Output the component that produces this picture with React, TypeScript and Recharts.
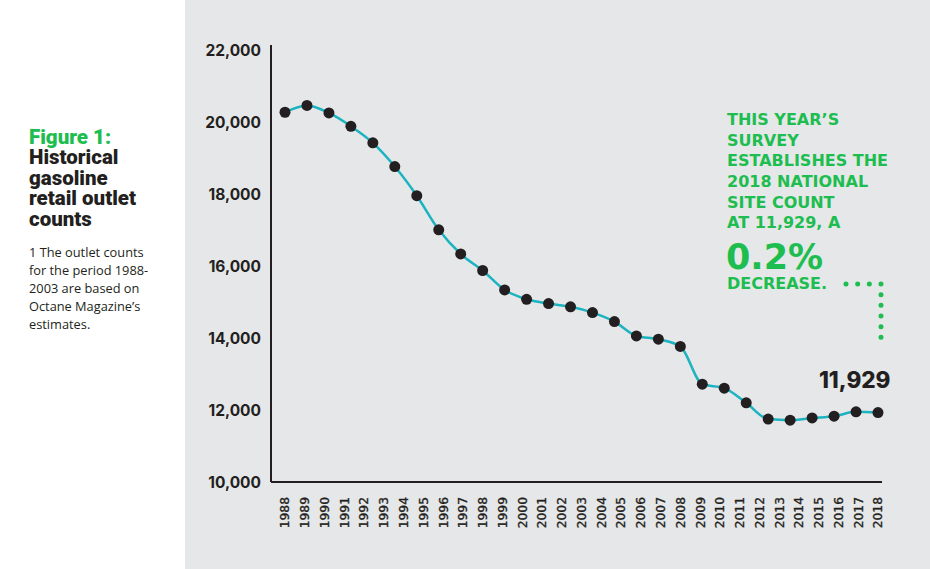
import React from 'react'
import { LabelList, Line, LineChart, XAxis, YAxis } from 'recharts'

// years shown on the axis
const years = [
  1988, 1989, 1990, 1991, 1992, 1993, 1994, 1995, 1996, 1997, 1998, 1999, 2000, 2001, 2002, 2003,
  2004, 2005, 2006, 2007, 2008, 2009, 2010, 2011, 2012, 2013, 2014, 2015, 2016, 2017, 2018,
]

// outlet counts as plotted (the original draws 28 points across the year axis)
const outletCounts = [
  20280, 20470, 20260, 19890, 19430, 18770, 17960, 17010, 16340, 15880, 15340, 15080, 14960, 14870,
  14710, 14460, 14060, 13970, 13770, 12720, 12610, 12200, 11750, 11720, 11780, 11830, 11950, 11929,
]

const yTicks = [10000, 12000, 14000, 16000, 18000, 20000, 22000]

const titleLines = ['Historical', 'gasoline', 'retail outlet', 'counts']
const noteLines = [
  '1 The outlet counts',
  'for the period 1988-',
  '2003 are based on',
  'Octane Magazine’s',
  'estimates.',
]
const calloutLines = ['THIS YEAR’S', 'SURVEY', 'ESTABLISHES THE', '2018 NATIONAL', 'SITE COUNT', 'AT 11,929, A']

const palette = {
  ink: '#231f20',
  green: '#1dbd50',
  teal: '#1cb3c1',
  panel: '#e6e7e8',
}

const yearRows = years.map((year) => ({ year }))
const pointRows = outletCounts.map((count, i) => ({ i, count }))

function YearTick({ x, y, payload }: any) {
  return (
    <text
      x={x}
      y={y}
      transform={`rotate(-90 ${x} ${y})`}
      textAnchor="end"
      dy="0.36em"
      fontSize={12.3}
      fontFamily="DejaVu Sans"
      fill={palette.ink}
      stroke={palette.ink}
      strokeWidth={0.35}
    >
      {payload.value}
    </text>
  )
}

function LastValueLabel(props: any) {
  const { x, y, value, index } = props
  if (index !== outletCounts.length - 1) return null
  return (
    <text
      x={x + 12.5}
      y={y - 24.5}
      textAnchor="end"
      fontSize={22.5}
      fontWeight={800}
      fontFamily="Inter"
      fill={palette.ink}
    >
      {Number(value).toLocaleString('en-US')}
    </text>
  )
}

export default function App() {
  return (
    <div
      style={{
        position: 'absolute',
        left: 0,
        top: 0,
        width: 930,
        height: 569,
        background: '#ffffff',
        overflow: 'hidden',
      }}
    >
      <div style={{ position: 'absolute', left: 185, top: 0, width: 745, height: 569, background: palette.panel }}>
        <LineChart width={745} height={569} data={yearRows} margin={{ top: 45, right: 48, bottom: 0, left: 0 }}>
          <XAxis
            xAxisId="pts"
            dataKey="i"
            type="number"
            domain={[0, outletCounts.length - 1]}
            padding={{ left: 14, right: 4 }}
            height={0}
            hide
          />
          <XAxis
            xAxisId="years"
            dataKey="year"
            type="number"
            domain={['dataMin', 'dataMax']}
            ticks={years}
            interval={0}
            padding={{ left: 14, right: 4 }}
            height={87}
            axisLine={{ stroke: palette.ink, strokeWidth: 2 }}
            tickLine={false}
            tickMargin={9}
            tick={<YearTick />}
          />
          <YAxis
            domain={[10000, 22150]}
            ticks={yTicks}
            interval={0}
            allowDataOverflow
            width={86}
            axisLine={{ stroke: palette.ink, strokeWidth: 2 }}
            tickLine={false}
            tickMargin={4}
            tick={{ fontSize: 15.5, fontWeight: 700, fontFamily: 'Inter', fill: palette.ink }}
            tickFormatter={(v: number) => v.toLocaleString('en-US')}
          />
          <Line
            data={pointRows}
            xAxisId="pts"
            type="monotone"
            dataKey="count"
            stroke={palette.teal}
            strokeWidth={2.5}
            dot={{ r: 5.5, fill: palette.ink, stroke: 'none', strokeWidth: 0 }}
            activeDot={false}
            isAnimationActive={false}
          >
            <LabelList dataKey="count" content={<LastValueLabel />} />
          </Line>
        </LineChart>
      </div>

      <svg
        width={930}
        height={569}
        style={{ position: 'absolute', left: 0, top: 0, pointerEvents: 'none' }}
      >
        {/* left caption */}
        <text x={29} y={143.5} fontFamily="Roboto" fontWeight={900} fontSize={20.5} fill={palette.green}>
          Figure 1:
        </text>
        {titleLines.map((line, i) => (
          <text
            key={line}
            x={29}
            y={164 + i * 20.7}
            fontFamily="Roboto"
            fontWeight={900}
            fontSize={20.5}
            fill={palette.ink}
          >
            {line}
          </text>
        ))}
        {noteLines.map((line, i) => (
          <text
            key={line}
            x={29}
            y={256.5 + i * 18}
            fontFamily="Open Sans"
            fontSize={12.8}
            fill={palette.ink}
          >
            {line}
          </text>
        ))}

        {/* callout */}
        {calloutLines.map((line, i) => (
          <text
            key={line}
            x={727}
            y={124.8 + i * 20.7}
            fontFamily="DejaVu Sans"
            fontWeight={700}
            fontSize={16}
            fill={palette.green}
          >
            {line}
          </text>
        ))}
        <text x={726} y={268.5} fontFamily="DejaVu Sans" fontWeight={700} fontSize={35} fill={palette.green}>
          0.2%
        </text>
        <text x={727} y={288.5} fontFamily="DejaVu Sans" fontWeight={700} fontSize={16} fill={palette.green}>
          DECREASE.
        </text>
        <line
          x1={846}
          y1={284}
          x2={881}
          y2={284}
          stroke={palette.green}
          strokeWidth={5}
          strokeLinecap="round"
          strokeDasharray="0 11.667"
        />
        <line
          x1={881}
          y1={284}
          x2={881}
          y2={348}
          stroke={palette.green}
          strokeWidth={5}
          strokeLinecap="round"
          strokeDasharray="0 10.667"
        />
      </svg>
    </div>
  )
}
